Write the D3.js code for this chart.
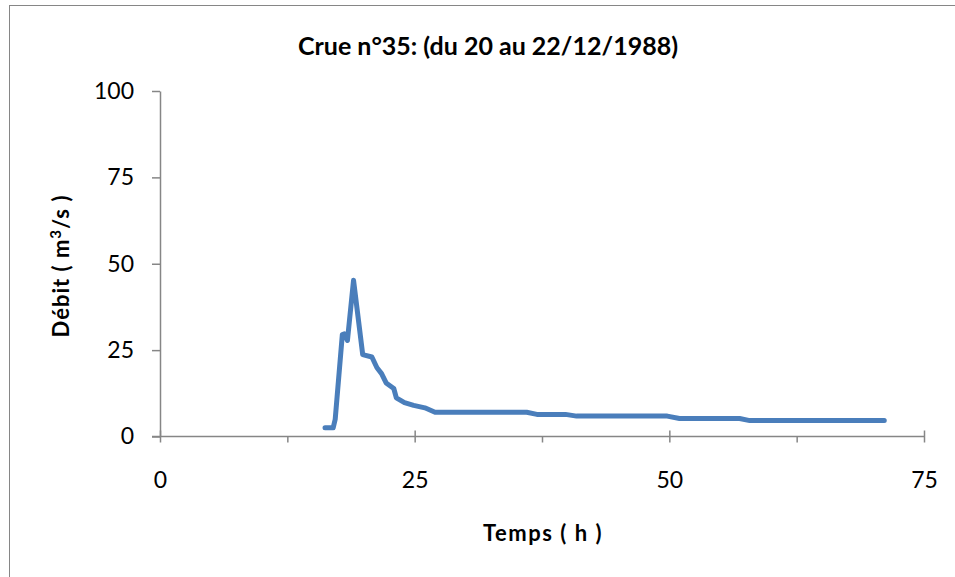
<!DOCTYPE html>
<html>
<head>
<meta charset="utf-8">
<script src="https://cdn.jsdelivr.net/npm/d3@7"></script>
<style>
  html, body { margin: 0; padding: 0; background: #fff; }
  svg { display: block; }
</style>
</head>
<body>
<svg id="chart" width="955" height="577"></svg>
<script>
// Data
const titleText = "Crue n°35: (du 20 au 22/12/1988)";
const xTitle = "Temps ( h )";
const times = [16.2, 17.0, 17.2, 17.9, 18.1, 18.4, 19.0, 19.9, 20.8, 21.3, 21.75, 22.2, 22.95, 23.2, 24.0, 24.9, 26.0, 27.0, 36.0, 37.0, 39.8, 40.9, 49.8, 51.0, 56.9, 57.9, 71.1];
const flows = [2.5, 2.5, 5.0, 29.5, 29.7, 27.8, 45.2, 23.7, 23.0, 19.9, 18.2, 15.5, 13.9, 11.2, 9.8, 9.0, 8.3, 7.0, 7.0, 6.4, 6.4, 5.9, 5.9, 5.2, 5.2, 4.6, 4.6];
const xTicks = [0, 25, 50, 75];
const xMinorTicks = [12.5, 37.5, 62.5];
const yTicks = [0, 25, 50, 75, 100];

const svg = d3.select("#chart");
const axisColor = "#868686";
const font = "Lato, 'Open Sans', sans-serif";

// outer chart border
svg.append("rect")
  .attr("x", 9.5).attr("y", 5.5)
  .attr("width", 960).attr("height", 600)
  .attr("fill", "none").attr("stroke", axisColor).attr("stroke-width", 1);

const x = d3.scaleLinear().domain([0, 75]).range([160, 924]);
const y = d3.scaleLinear().domain([0, 100]).range([436.5, 91]);

// title
svg.append("text")
  .attr("x", 488).attr("y", 55)
  .attr("text-anchor", "middle")
  .attr("font-family", font).attr("font-weight", "bold").attr("font-size", 25)
  .attr("fill", "#000")
  .text(titleText);

// y axis
const yAxis = d3.axisLeft(y).tickValues(yTicks).tickSize(8).tickPadding(18).tickSizeOuter(0);
const gy = svg.append("g").attr("transform", "translate(" + x(0) + ",0)").call(yAxis);
gy.select(".domain").attr("stroke", axisColor).attr("stroke-width", 1.5);
gy.selectAll(".tick line").attr("stroke", axisColor).attr("stroke-width", 1.5);
gy.selectAll(".tick text").attr("font-family", font).attr("font-size", 23).attr("fill", "#000");

// x axis (major ticks cross, minor ticks outside)
const xAxis = d3.axisBottom(x).tickValues(xTicks).tickSize(6).tickPadding(29).tickSizeOuter(0);
const gx = svg.append("g").attr("transform", "translate(0," + y(0) + ")").call(xAxis);
gx.select(".domain").attr("stroke", axisColor).attr("stroke-width", 1.5)
  .attr("d", "M" + (x(0) - 8) + ",0H" + x(75));
gx.selectAll(".tick line").attr("stroke", axisColor).attr("stroke-width", 1.5).attr("y1", -6);
gx.selectAll(".tick text").attr("font-family", font).attr("font-size", 23).attr("fill", "#000");
const xMinor = d3.axisBottom(x).tickValues(xMinorTicks).tickSize(6).tickFormat("").tickSizeOuter(0);
const gxm = svg.append("g").attr("transform", "translate(0," + y(0) + ")").call(xMinor);
gxm.select(".domain").remove();
gxm.selectAll(".tick line").attr("stroke", axisColor).attr("stroke-width", 1.5);

// axis titles
svg.append("text")
  .attr("x", 543).attr("y", 541)
  .attr("text-anchor", "middle")
  .attr("font-family", font).attr("font-weight", "bold").attr("font-size", 22)
  .attr("letter-spacing", 1.5)
  .attr("fill", "#000")
  .text(xTitle);

const yt = svg.append("text")
  .attr("transform", "translate(69,266) rotate(-90)")
  .attr("text-anchor", "middle")
  .attr("font-family", font).attr("font-weight", "bold").attr("font-size", 22)
  .attr("letter-spacing", 1)
  .attr("fill", "#000");
yt.append("tspan").text("Débit ( m");
yt.append("tspan").attr("dy", -8).attr("font-size", 15).text("3");
yt.append("tspan").attr("dy", 8).text("/s )");

// data line
const data = times.map((t, i) => ({ t: t, q: flows[i] }));
svg.append("path")
  .datum(data)
  .attr("fill", "none")
  .attr("stroke", "#4a7ebb")
  .attr("stroke-width", 5)
  .attr("stroke-linejoin", "round")
  .attr("stroke-linecap", "round")
  .attr("d", d3.line().x(d => x(d.t)).y(d => y(d.q)));
</script>
</body>
</html>
